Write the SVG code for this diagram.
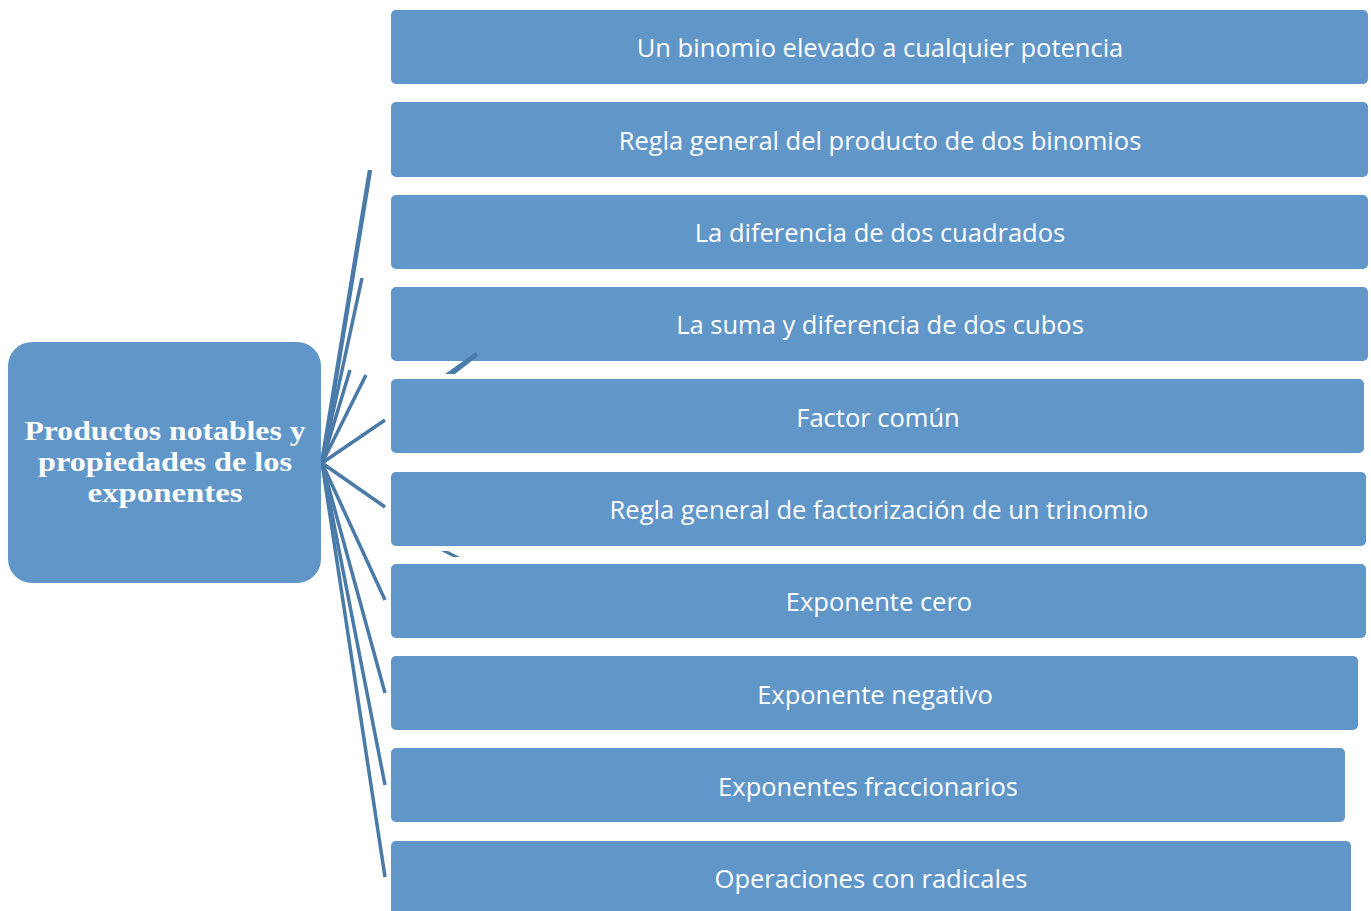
<svg xmlns="http://www.w3.org/2000/svg" width="1371" height="911" viewBox="0 0 1371 911">
<style>
.box{fill:#6196c9;}
.lbl{font-family:"Open Sans","Liberation Sans",sans-serif;font-size:25.5px;fill:#ffffff;text-anchor:middle;}
.hub{font-family:"Liberation Serif",serif;font-weight:bold;font-size:28px;fill:#ffffff;text-anchor:middle;}
.con{stroke:#4a7aa8;stroke-width:3.5;fill:none;}
</style>
<rect width="1371" height="911" fill="#ffffff"/>
<g id="connectors">
<line class="con" x1="322" y1="463" x2="370" y2="170" style="stroke-width:4.5"/>
<line class="con" x1="322" y1="463" x2="362" y2="278"/>
<line class="con" x1="322" y1="463" x2="350" y2="370"/>
<line class="con" x1="322" y1="463" x2="366" y2="375"/>
<line class="con" x1="322" y1="463" x2="385" y2="420"/>
<line class="con" x1="322" y1="463" x2="385" y2="507"/>
<line class="con" x1="322" y1="463" x2="385" y2="600"/>
<line class="con" x1="322" y1="463" x2="385" y2="693"/>
<line class="con" x1="322" y1="463" x2="385" y2="785"/>
<line class="con" x1="322" y1="463" x2="385" y2="877"/>
</g>
<g id="hub">
<rect x="8" y="342" width="313" height="241" rx="24" class="box"/>
<text class="hub" x="165" y="440" textLength="281" lengthAdjust="spacingAndGlyphs">Productos notables y</text>
<text class="hub" x="165" y="471" textLength="254" lengthAdjust="spacingAndGlyphs">propiedades de los</text>
<text class="hub" x="165" y="502" textLength="155" lengthAdjust="spacingAndGlyphs">exponentes</text>
</g>
<g id="n1"><rect class="box" x="391" y="10" width="977" height="74" rx="5"/><text class="lbl" x="880" y="57">Un binomio elevado a cualquier potencia</text></g>
<g id="n2"><rect class="box" x="391" y="102" width="977" height="75" rx="5"/><text class="lbl" x="880" y="150">Regla general del producto de dos binomios</text></g>
<g id="n3"><rect class="box" x="391" y="195" width="977" height="74" rx="5"/><text class="lbl" x="880" y="242">La diferencia de dos cuadrados</text></g>
<g id="n4"><rect class="box" x="391" y="287" width="977" height="74" rx="5"/><text class="lbl" x="880" y="334">La suma y diferencia de dos cubos</text></g>
<g id="n5"><rect class="box" x="391" y="379" width="973" height="74" rx="5"/><text class="lbl" x="878" y="427">Factor común</text></g>
<g id="n6"><rect class="box" x="391" y="472" width="975" height="74" rx="5"/><text class="lbl" x="879" y="519">Regla general de factorización de un trinomio</text></g>
<g id="n7"><rect class="box" x="391" y="564" width="975" height="74" rx="5"/><text class="lbl" x="879" y="611">Exponente cero</text></g>
<g id="n8"><rect class="box" x="391" y="656" width="967" height="74" rx="5"/><text class="lbl" x="875" y="704">Exponente negativo</text></g>
<g id="n9"><rect class="box" x="391" y="748" width="954" height="74" rx="5"/><text class="lbl" x="868" y="796">Exponentes fraccionarios</text></g>
<g id="n10"><rect class="box" x="391" y="841" width="960" height="80" rx="5"/><text class="lbl" x="871" y="888">Operaciones con radicales</text></g>
<g id="fragments">
<polygon points="445,374 476,352 478,356 455,374" fill="#4a7aa8"/>
<polygon points="441,551 448,551 460,557 453,557" fill="#4a7aa8"/>
</g>
</svg>
